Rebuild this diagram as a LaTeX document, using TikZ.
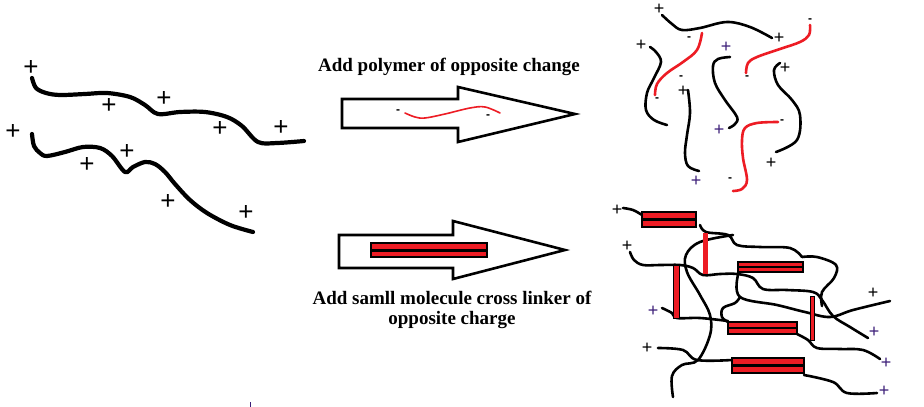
\documentclass[tikz,border=0pt]{standalone}
\usepackage{fontspec}
\setmainfont{Liberation Serif}
\newfontfamily\signfont{Liberation Sans}
\definecolor{pred}{HTML}{ED1C24}
\definecolor{ppl}{HTML}{3C1E78}
\begin{document}
\begin{tikzpicture}[x=1pt,y=-1pt,
  chainline/.style={line width=4.2pt, line cap=round, line join=round},
  thinline/.style={line width=2.6pt, line cap=round, line join=round},
  redline/.style={thinline, pred},
  bigplus/.style={font=\signfont\fontsize{26}{26}\selectfont, inner sep=0pt},
  smallplus/.style={font=\signfont\fontsize{18}{18}\selectfont, inner sep=0pt},
  minus/.style={font=\signfont\bfseries\fontsize{12}{12}\selectfont, inner sep=0pt},
  arrowbox/.style={line width=2.6pt, line join=miter, fill=white},
  title/.style={font=\bfseries\fontsize{19}{20}\selectfont, inner sep=0pt, align=center},
  barbox/.style={draw=black, line width=1.6pt, fill=pred},
  barmid/.style={line width=3pt}
]
\useasboundingbox[fill=white] (0,0) rectangle (924,407);

% ---------- left: positively charged polymer chains ----------
\draw[chainline] plot[smooth, tension=0.55] coordinates {(32,78) (36,88) (46,93) (60,95) (85,94) (107,93) (130,97) (145,105) (158,114) (180,112) (205,112) (227,117) (242,126) (258,142) (277,143) (304,141)};
\draw[chainline] plot[smooth, tension=0.55] coordinates {(32,134) (34,146) (40,153) (47,156) (65,152) (83,147) (100,148) (112,156) (125,172) (133,167) (145,162) (155,164) (165,172) (175,184) (190,200) (207,213) (230,225) (253,232)};
\node[bigplus] (p1) at (31,68) {+};
\node[bigplus] (p2) at (109,106) {+};
\node[bigplus] (p3) at (164,99) {+};
\node[bigplus] (p4) at (220,129) {+};
\node[bigplus] (p5) at (281,128) {+};
\node[bigplus] (p6) at (13,132) {+};
\node[bigplus] (p7) at (87,165) {+};
\node[bigplus] (p8) at (127,152) {+};
\node[bigplus] (p9) at (168,202) {+};
\node[bigplus] (p10) at (246,213) {+};

% ---------- top arrow ----------
\node[title] (t1) at (449,67) {Add polymer of opposite change};
\draw[arrowbox] (342,99) -- (458,99) -- (458,87) -- (575,114) -- (458,142) -- (458,128) -- (342,128) -- cycle;
\draw[pred, line width=1.6pt, line cap=round] plot[smooth, tension=0.6] coordinates {(405,113) (415,117) (425,118) (445,114) (470,108) (485,107) (500,113)};
\node[minus] (m1) at (398,112) {-};
\node[minus] (m2) at (488,117) {-};

% ---------- bottom arrow ----------
\draw[arrowbox] (339,235) -- (453,235) -- (453,221) -- (565,250) -- (453,279) -- (453,268) -- (339,268) -- cycle;
\draw[barbox] (371,243) rectangle (487,257);
\draw[barmid] (371,250) -- (487,250);
\node[title] (t2) at (452,310) {Add samll molecule cross linker of\\opposite charge};

% ---------- top right: polyelectrolyte complex ----------
\draw[thinline] plot[smooth, tension=0.6] coordinates {(662,15) (672,24) (682,30) (700,28) (727,22) (750,27) (772,38)};
\draw[redline] plot[smooth, tension=0.6] coordinates {(702,33) (697,50) (683,62) (667,73) (657,84) (655,95)};
\draw[thinline] plot[smooth, tension=0.6] coordinates {(650,47) (656,52) (661,62) (654,78) (647,93) (646,110) (654,120) (667,125)};
\draw[thinline] plot[smooth, tension=0.6] coordinates {(688,90) (690,113) (687,135) (685,153) (688,166) (699,171)};
\draw[thinline] plot[smooth, tension=0.6] coordinates {(730,57) (718,59) (713,66) (715,83) (725,100) (737,117) (735,124) (729,128)};
\draw[redline] plot[smooth, tension=0.6] coordinates {(810,25) (809,35) (800,42) (780,49) (757,57) (748,63) (746,73)};
\draw[thinline] plot[smooth, tension=0.6] coordinates {(780,63) (774,70) (778,85) (792,100) (800,115) (797,140) (776,152)};
\draw[redline] plot[smooth, tension=0.6] coordinates {(778,122) (757,123) (745,128) (742,140) (743,158) (747,180) (742,189) (733,191)};
\node[smallplus] (q1) at (659,9) {+};
\node[smallplus] (q2) at (779,38) {+};
\node[smallplus] (q3) at (641,45) {+};
\node[smallplus, ppl] (q4) at (726,47) {+};
\node[smallplus] (q5) at (683,91) {+};
\node[smallplus] (q6) at (785,68) {+};
\node[smallplus, ppl] (q7) at (719,130) {+};
\node[smallplus] (q8) at (771,163) {+};
\node[smallplus, ppl] (q9) at (696,181) {+};
\node[minus] (n1) at (689,39) {-};
\node[minus] (n2) at (657,100) {-};
\node[minus] (n3) at (681,78) {-};
\node[minus] (n4) at (810,21) {-};
\node[minus] (n5) at (747,78) {-};
\node[minus] (n6) at (782,122) {-};
\node[minus] (n7) at (730,180) {-};

% ---------- bottom right: cross-linked network ----------
\draw[thinline] plot[smooth, tension=0.6] coordinates {(623,208) (633,210) (642,215)};
\draw[thinline] plot[smooth, tension=0.6] coordinates {(700,225) (706,232) (728,235) (737,245) (760,247) (790,248) (802,257)};
\draw[thinline] plot[smooth, tension=0.6] coordinates {(733,235) (700,242) (686,255) (687,272) (700,295) (710,315) (710,335) (698,360) (682,365) (672,376) (673,397)};
\draw[thinline] plot[smooth, tension=0.6] coordinates {(630,252) (634,260) (643,265) (660,265) (680,265) (693,268) (703,275) (720,274) (737,274) (753,278) (763,289) (787,290) (813,292) (822,300) (833,316) (850,327) (868,338)};
\draw[thinline] plot[smooth, tension=0.6] coordinates {(802,257) (817,257) (836,265) (834,278) (822,292) (822,306)};
\draw[thinline] plot[smooth, tension=0.6] coordinates {(738,275) (740,297) (777,305) (805,312) (830,317) (853,310) (890,301)};
\draw[thinline] plot[smooth, tension=0.6] coordinates {(740,297) (735,303) (723,308) (722,317) (728,322)};
\draw[thinline] plot[smooth, tension=0.6] coordinates {(662,308) (672,313) (677,318) (700,318) (728,321)};
\draw[thinline] plot[smooth, tension=0.6] coordinates {(797,334) (808,340) (817,348) (840,349) (863,350) (880,359)};
\draw[thinline] plot[smooth, tension=0.6] coordinates {(658,348) (683,350) (697,360) (732,360)};
\draw[thinline] plot[smooth, tension=0.6] coordinates {(804,375) (833,382) (847,393) (877,393)};

% cross-linker bars
\fill[pred] (703,233) rectangle (708,274);
\draw[barbox, line width=1pt] (673,265) rectangle (679,318);
\draw[barbox, line width=0.8pt] (810,296) rectangle (814,340);
\draw[barbox] (642,212) rectangle (696,227);
\draw[barmid] (642,219.5) -- (696,219.5);
\draw[barbox] (738,262) rectangle (803,272);
\draw[barmid, line width=2pt] (738,267) -- (803,267);
\draw[barbox] (728,322) rectangle (797,334);
\draw[barmid, line width=2.2pt] (728,328) -- (797,328);
\draw[barbox] (732,358) rectangle (804,373);
\draw[barmid] (732,365.5) -- (804,365.5);

\node[smallplus] (r1) at (617,210) {+};
\node[smallplus] (r2) at (627,246) {+};
\node[smallplus, ppl] (r3) at (653,311) {+};
\node[smallplus] (r4) at (647,348) {+};
\node[smallplus] (r5) at (873,293) {+};
\node[smallplus, ppl] (r6) at (874,332) {+};
\node[smallplus, ppl] (r7) at (886,363) {+};
\node[smallplus, ppl] (r8) at (884,391) {+};

\draw[ppl, line width=1pt] (250,402) -- (250,407);
\end{tikzpicture}
\end{document}
